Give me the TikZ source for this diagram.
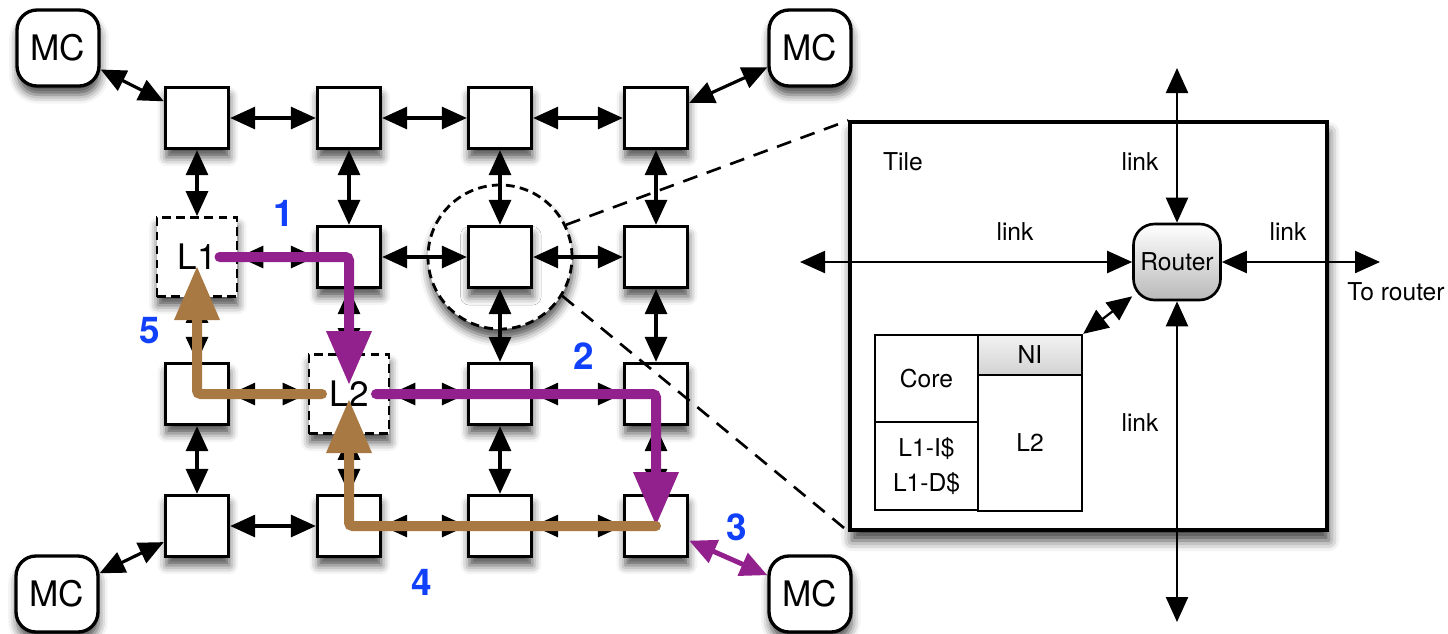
\documentclass[tikz,border=0pt]{standalone}
\usepackage{fontspec}
\setmainfont{TeX Gyre Heros}
\usetikzlibrary{arrows.meta,shadows.blur}
\definecolor{reqpurple}{RGB}{146,33,142}
\definecolor{respbrown}{RGB}{168,121,66}
\definecolor{stepblue}{RGB}{16,64,250}
\newcommand\Link[2]{%
    \draw[link] (#1) -- (#2);
}

\begin{document}
\begin{tikzpicture}[
    softshadow/.style={blur shadow={shadow xshift=0.5pt, shadow yshift=-5pt, shadow blur radius=5pt, shadow opacity=70}},
    tile/.style={draw, line width=1.9pt, fill=white, inner sep=0pt, minimum width=1.26cm, minimum height=1.22cm, softshadow},
    cache/.style={tile, line width=1.6pt, dash pattern=on 5pt off 3pt, minimum width=1.6cm, minimum height=1.58cm, font=\fontsize{20}{24}\selectfont},
    mc/.style={draw, line width=1.9pt, fill=white, rounded corners=0.4cm, minimum width=1.64cm, minimum height=1.52cm, softshadow, font=\fontsize{20}{24}\selectfont},
    link/.style={{Triangle[length=0.5cm,width=0.44cm]}-{Triangle[length=0.5cm,width=0.44cm]}, line width=1.8pt},
    tilelink/.style={{Triangle[length=0.5cm,width=0.44cm]}-{Triangle[length=0.5cm,width=0.44cm]}, line width=1.3pt},
    req/.style={draw=reqpurple, line width=0.2cm, line cap=round, rounded corners=2pt, -{Triangle[length=1.08cm,width=0.86cm]}},
    resp/.style={req, draw=respbrown},
    stepnum/.style={text=stepblue, font=\fontsize{21}{24}\selectfont\bfseries},
    paneltext/.style={font=\fontsize{14}{17}\selectfont},
    block/.style={draw, line width=1.3pt, fill=white, inner sep=0pt, align=center, font=\fontsize{14}{20}\selectfont},
    zoomline/.style={line width=1.5pt, dash pattern=on 3mm off 2mm}
]
    \useasboundingbox (0,0) rectangle (28.96,-12.66);

    % magnified tile
    \node[circle, draw, line width=1.6pt, dash pattern=on 5pt off 3pt, fill=white, minimum size=2.88cm, softshadow] (focus) at (10.0,-5.14) {};

    % 4x4 mesh
    \node[tile] (a1) at (3.94,-2.36) {};
    \node[tile] (b1) at (6.98,-2.36) {};
    \node[tile] (c1) at (10.0,-2.36) {};
    \node[tile] (d1) at (13.12,-2.36) {};
    \node[cache] (l1) at (3.94,-5.14) {L1};
    \node[tile] (b2) at (6.98,-5.14) {};
    \node[tile] (c2) at (10.0,-5.14) {};
    \node[tile] (d2) at (13.12,-5.14) {};
    \node[tile] (a3) at (3.94,-7.88) {};
    \node[cache] (l2) at (6.98,-7.88) {L2};
    \node[tile] (c3) at (10.0,-7.88) {};
    \node[tile] (d3) at (13.12,-7.88) {};
    \node[tile] (a4) at (3.94,-10.52) {};
    \node[tile] (b4) at (6.98,-10.52) {};
    \node[tile] (c4) at (10.0,-10.52) {};
    \node[tile] (d4) at (13.12,-10.52) {};

    \node[mc] (mcnw) at (1.16,-0.96) {MC};
    \node[mc] (mcne) at (16.2,-0.96) {MC};
    \node[mc] (mcsw) at (1.14,-11.88) {MC};
    \node[mc] (mcse) at (16.2,-11.88) {MC};

    \Link{a1}{b1} \Link{b1}{c1} \Link{c1}{d1}
    \Link{l1}{b2} \Link{b2}{c2} \Link{c2}{d2}
    \Link{a3}{l2} \Link{l2}{c3} \Link{c3}{d3}
    \Link{a4}{b4} \Link{b4}{c4} \Link{c4}{d4}
    \Link{a1}{l1} \Link{l1}{a3} \Link{a3}{a4}
    \Link{b1}{b2} \Link{b2}{l2} \Link{l2}{b4}
    \Link{c1}{c2} \Link{c2}{c3} \Link{c3}{c4}
    \Link{d1}{d2} \Link{d2}{d3} \Link{d3}{d4}
    \Link{mcnw}{a1} \Link{mcne}{d1} \Link{mcsw}{a4}

    % tile internals
    \node[draw, line width=1.8pt, fill=white, minimum width=9.54cm, minimum height=8.16cm,
          blur shadow={shadow xshift=1pt, shadow yshift=-6pt, shadow blur radius=6pt, shadow opacity=75}] (tilebox) at (21.77,-6.52) {};
    \draw[zoomline] (focus.26) -- (tilebox.north west);
    \draw[zoomline] (focus.-32) -- (tilebox.south west);
    \node[paneltext] (tilelabel) at (18.06,-3.24) {Tile};

    \node[draw, line width=1.5pt, rounded corners=0.42cm, top color=white, bottom color=gray!55,
          minimum width=1.74cm, minimum height=1.52cm, inner sep=1pt, paneltext] (router) at (23.54,-5.24) {Router};
    \coordinate (northend) at (23.54,-1.36);
    \coordinate (southend) at (23.54,-12.44);
    \coordinate (westend) at (16.0,-5.24);
    \coordinate (eastend) at (27.6,-5.24);
    \draw[tilelink] (northend) -- (router);
    \draw[tilelink] (router) -- (southend);
    \draw[tilelink] (westend) -- (router);
    \draw[tilelink] (router) -- (eastend);
    \node[paneltext] (linkn) at (22.8,-3.24) {link};
    \node[paneltext] (linkw) at (20.3,-4.64) {link};
    \node[paneltext] (linke) at (25.76,-4.64) {link};
    \node[paneltext] (links) at (22.8,-8.46) {link};
    \node[paneltext] (torouter) at (27.92,-5.84) {To router};

    \node[block, minimum width=2.06cm, minimum height=1.74cm] (core) at (18.53,-7.57) {Core};
    \node[block, minimum width=2.06cm, minimum height=1.76cm] (l1cache) at (18.53,-9.32) {L1-I\$\\L1-D\$};
    \node[block, top color=gray!10, bottom color=gray!35, minimum width=2.08cm, minimum height=0.8cm] (ni) at (20.6,-7.1) {NI};
    \node[block, minimum width=2.08cm, minimum height=2.72cm] (l2cache) at (20.6,-8.86) {L2};
    \draw[tilelink] (ni.north east) -- (router);

    % miss path
    \draw[req] ([xshift=4.5mm]l1.center) -| ([yshift=1.8mm]l2.center);
    \draw[req] ([xshift=5.4mm]l2.center) -| (d4.center);
    \draw[reqpurple, line width=2.8pt, {Triangle[length=0.54cm,width=0.48cm]}-{Triangle[length=0.54cm,width=0.48cm]}] (d4) -- (mcse);
    \draw[resp] (d4.center) -| ([yshift=-1mm]l2.center);
    \draw[resp] ([xshift=-5.4mm]l2.center) -| ([yshift=-1.8mm]l1.center);

    \node[stepnum] (step1) at (5.68,-4.26) {1};
    \node[stepnum] (step2) at (11.68,-7.12) {2};
    \node[stepnum] (step3) at (14.74,-10.54) {3};
    \node[stepnum] (step4) at (8.44,-11.64) {4};
    \node[stepnum] (step5) at (3.0,-6.62) {5};
\end{tikzpicture}
\end{document}
